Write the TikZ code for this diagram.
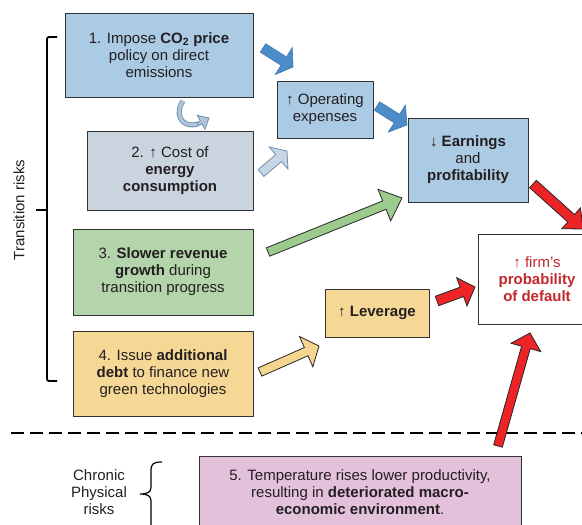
\documentclass[tikz,border=0pt]{standalone}
\usepackage{amsmath}
\usepackage{fontspec}
\setmainfont{Liberation Sans}
\usetikzlibrary{calc}

\definecolor{ink}{HTML}{231F20}
\definecolor{boxblue}{HTML}{ABCAE3}
\definecolor{boxgrey}{HTML}{CAD4DF}
\definecolor{boxgreen}{HTML}{B4D5AC}
\definecolor{boxyellow}{HTML}{F6D896}
\definecolor{boxpink}{HTML}{E3C1DB}
\definecolor{arrblue}{HTML}{4C8CC9}
\definecolor{arrblueline}{HTML}{3F78B0}
\definecolor{arrgrey}{HTML}{C8D6E4}
\definecolor{arrgreyline}{HTML}{6F8FB3}
\definecolor{arrgreen}{HTML}{9DCB8E}
\definecolor{arryellow}{HTML}{F6D68E}
\definecolor{arrred}{HTML}{EC2327}
\definecolor{textred}{HTML}{C1272D}

% block arrow: tail, tip, style, half shaft, half head, head length
\newcommand\fatarrow[6]{%
  \coordinate (fa) at ($(#2)!#6!(#1)$);
  \path[#3] ($(#1)!#4!90:(#2)$) -- ($(fa)!#4!90:(#2)$) -- ($(fa)!#5!90:(#2)$)
    -- (#2) -- ($(fa)!#5!-90:(#2)$) -- ($(fa)!#4!-90:(#2)$) -- ($(#1)!#4!-90:(#2)$) -- cycle;}

\begin{document}
\begin{tikzpicture}[x=1pt,y=-1pt]
                \tikzset{Box/.style={draw=black!80, line width=0.9pt, align=center, inner sep=0pt,
                    text=ink, font=\fontsize{15}{17}\selectfont},
                  Plain/.style={align=center, text=ink, font=\fontsize{15}{17}\selectfont},
                  BlueArr/.style={fill=arrblue, draw=arrblueline, line width=0.6pt},
                  GreyArr/.style={fill=arrgrey, draw=arrgreyline, line width=0.8pt},
                  DarkArr/.style={fill=#1, draw=black!85, line width=0.8pt}}
                \useasboundingbox (0,0) rectangle (582,525);
                % boxes
                \node[Box, fill=boxblue, minimum width=188, minimum height=84] (R1) at (159,55)
                    {1. Impose \textbf{CO\textsubscript{2} price}\\policy on direct\\emissions};
                \node[Box, fill=boxgrey, minimum width=166, minimum height=79] (R2) at (170,170.5)
                    {2. ↑ Cost of\\\textbf{energy}\\\textbf{consumption}};
                \node[Box, fill=boxgreen, minimum width=180, minimum height=86] (R3) at (163,272)
                    {3. \textbf{Slower revenue}\\\textbf{growth} during\\transition progress};
                \node[Box, fill=boxyellow, minimum width=180, minimum height=85] (R4) at (163,373.5)
                    {4. Issue \textbf{additional}\\\textbf{debt} to finance new\\green technologies};
                \node[Box, fill=boxblue, minimum width=96, minimum height=57] (Opex) at (325,109.5)
                    {↑ Operating\\expenses};
                \node[Box, fill=boxblue, minimum width=120, minimum height=84] (Earn) at (468,160)
                    {↓ \textbf{Earnings}\\and\\\textbf{profitability}};
                \node[Box, fill=boxyellow, minimum width=104, minimum height=48] (Lev) at (377,313)
                    {↑ \textbf{Leverage}};
                \node[Box, fill=white, text=textred, minimum width=118, minimum height=90] (Def) at (537,279)
                    {\textbf{↑} firm’s\\\textbf{probability}\\\textbf{of default}};
                \node[Box, fill=boxpink, minimum width=322, minimum height=72] (R5) at (360,492)
                    {5. Temperature rises lower productivity,\\resulting in \textbf{deteriorated macro-}\\\textbf{economic environment}.};
                % risk labels
                \node[Plain, rotate=90] (TR) at (19,210) {Transition risks};
                \node[Plain] (CP) at (99,492) {Chronic\\Physical\\risks};
                \draw[line width=1.8pt, rounded corners=2pt] (57,37) -- (47,37) -- (47,381) -- (57,381);
                \draw[line width=1.8pt] (47,210) -- (36,210);
                \draw[line width=1.2pt] (162,462) .. controls (153,462) and (151,464) .. (151,471) -- (151,487)
                    .. controls (151,492) and (148,494) .. (140,494) .. controls (148,494) and (151,496) .. (151,501)
                    -- (151,530);
                \draw[line width=2.5pt, dash pattern=on 13pt off 6pt] (11,433) -- (590,433);
                % arrows
                \coordinate (a1) at (263,48);  \coordinate (b1) at (293,67);
                \coordinate (a2) at (377,106); \coordinate (b2) at (407,125);
                \coordinate (a3) at (261,173); \coordinate (b3) at (287,151);
                \coordinate (a4) at (268,252); \coordinate (b4) at (402,198);
                \coordinate (a5) at (260,372); \coordinate (b5) at (319,346);
                \coordinate (a6) at (437,301); \coordinate (b6) at (475,287);
                \coordinate (a7) at (533,184); \coordinate (b7) at (583,229);
                \coordinate (a8) at (498,446); \coordinate (b8) at (530,333);
                \fatarrow{a1}{b1}{BlueArr}{5pt}{16pt}{11pt}
                \fatarrow{a2}{b2}{BlueArr}{5pt}{16pt}{12pt}
                \fatarrow{a3}{b3}{GreyArr}{4.5pt}{14.5pt}{11pt}
                \fatarrow{a4}{b4}{DarkArr=arrgreen}{4.5pt}{17pt}{19pt}
                \fatarrow{a5}{b5}{DarkArr=arryellow}{4.5pt}{16.5pt}{14pt}
                \fatarrow{a6}{b6}{DarkArr=arrred}{5pt}{15pt}{14pt}
                \fatarrow{a7}{b7}{DarkArr=arrred}{5pt}{14pt}{16pt}
                \fatarrow{a8}{b8}{DarkArr=arrred}{4.5pt}{15.5pt}{15pt}
                % curled arrow between 1 and 2
                \coordinate (c1) at (183,101); \coordinate (c2) at (198,124); \coordinate (c3) at (209,118);
                \draw[arrgreyline, line width=5pt] (c1) .. controls (175,111) and (179,129) .. (c2);
                \draw[arrgrey!75!arrgreyline, line width=3.2pt] (c1) .. controls (175,111) and (179,129) .. (c2);
                \fatarrow{c2}{c3}{GreyArr, fill=arrgrey!75!arrgreyline}{1.6pt}{8pt}{9pt}
            \end{tikzpicture}
\end{document}
